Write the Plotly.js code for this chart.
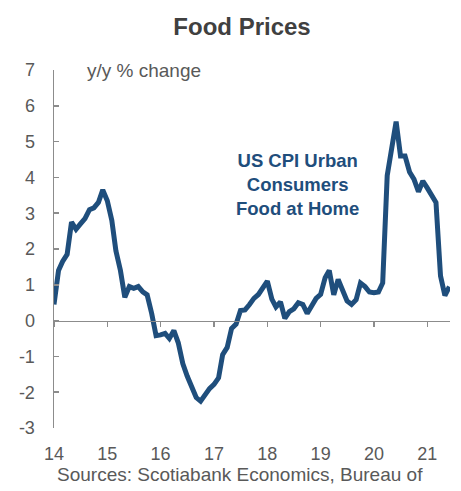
<!DOCTYPE html>
<html><head><meta charset="utf-8">
<script src="https://cdn.plot.ly/plotly-3.0.1.min.js"></script>
<style>html,body{margin:0;padding:0;background:#fff;overflow:hidden}#chart{width:461px;height:491px}</style>
</head><body><div id="chart"></div>
<script>
// Monthly y/y % change, US CPI Urban Consumers: Food at Home, Jan 2014 - Jun 2021
var startYear = 2014;
var foodAtHome = [
  0.45, 1.4, 1.65, 1.85, 2.75, 2.55, 2.7, 2.85, 3.1, 3.15, 3.3, 3.65,
  3.35, 2.8, 1.95, 1.4, 0.65, 0.95, 0.9, 0.95, 0.8, 0.72, 0.2, -0.42,
  -0.4, -0.36, -0.5, -0.28, -0.62, -1.2, -1.55, -1.88, -2.15, -2.25, -2.07, -1.9,
  -1.78, -1.6, -0.95, -0.75, -0.22, -0.1, 0.28, 0.3, 0.45, 0.62, 0.73, 0.9,
  1.1, 0.6, 0.38, 0.52, 0.06, 0.25, 0.33, 0.5, 0.45, 0.2, 0.45, 0.62,
  0.73, 1.2, 1.4, 0.72, 1.15, 0.8, 0.55, 0.45, 0.58, 1.05, 0.95, 0.8,
  0.78, 0.8, 1.05, 4.05, 4.7, 5.56, 4.6, 4.6, 4.15, 3.95, 3.6, 3.9,
  3.7, 3.5, 3.3, 1.25, 0.7, 0.95
];
var yearTickVals = ['2014-01-01','2015-01-01','2016-01-01','2017-01-01','2018-01-01','2019-01-01','2020-01-01','2021-01-01'];
var yearTickText = ['14','15','16','17','18','19','20','21'];
var yTickVals = [-3, -2, -1, 0, 1, 2, 3, 4, 5, 6, 7];
var yTickText = ['-3', '-2', '-1', '0', '1', '2', '3', '4', '5', '6', '7'];

var months = [];
for (var i = 0; i < foodAtHome.length; i++) {
  var y = startYear + Math.floor(i / 12), m = (i % 12) + 1;
  months.push(y + '-' + (m < 10 ? '0' + m : m) + '-01');
}

var grey = '#595959';
var xRange = ['2014-01-01', '2021-06-05'];

var traces = [
  {x: months, y: foodAtHome, type: 'scatter', mode: 'lines',
   line: {color: '#1f4e7c', width: 5}, hoverinfo: 'skip', xaxis: 'x', yaxis: 'y'},
  {x: [months[0]], y: [0], type: 'scatter', mode: 'markers', marker: {opacity: 0},
   hoverinfo: 'skip', xaxis: 'x2', yaxis: 'y'}
];

var layout = {
  width: 461, height: 491,
  margin: {l: 54, r: 11, t: 70, b: 63},
  paper_bgcolor: '#fff', plot_bgcolor: '#fff',
  showlegend: false,
  font: {family: 'Liberation Sans, Arial, sans-serif', color: grey, size: 18},
  title: {text: '<b>Food Prices</b>', x: 0.525, xanchor: 'center', y: 0.945, yanchor: 'middle',
          font: {size: 24, color: '#404040', family: 'Liberation Sans, Arial, sans-serif'}},
  xaxis: {type: 'date', range: xRange, tickvals: yearTickVals, ticktext: yearTickText,
          showgrid: false, zeroline: false, showline: false, ticks: '', ticklabelstandoff: 13,
          tickfont: {size: 18, color: grey}},
  xaxis2: {type: 'date', range: xRange, overlaying: 'x', anchor: 'free', position: 0.3,
           tickvals: yearTickVals, showticklabels: false, showgrid: false, zeroline: false,
           showline: true, linecolor: '#8c8c8c', linewidth: 1.5,
           ticks: 'outside', ticklen: 5, tickcolor: '#8c8c8c', tickwidth: 1.5},
  yaxis: {range: [-3, 7], tickvals: yTickVals, ticktext: yTickText, showgrid: false, zeroline: false,
          showline: true, linecolor: '#8c8c8c', linewidth: 1.5,
          ticks: 'inside', ticklen: 5, tickcolor: '#8c8c8c', tickwidth: 1.5,
          ticklabelstandoff: 14, tickfont: {size: 18, color: grey}},
  annotations: [
    {xref: 'paper', yref: 'paper', x: 0.078, y: 1.0, xanchor: 'left', yanchor: 'middle',
     text: 'y/y % change', showarrow: false, font: {size: 19, color: grey}},
    {xref: 'paper', yref: 'paper', x: 0.615, y: 0.68, xanchor: 'center', yanchor: 'middle',
     text: '<b>US CPI Urban<br>Consumers<br>Food at Home</b>', showarrow: false, align: 'center',
     font: {size: 18.5, color: '#1f4e7c'}},
    {xref: 'paper', yref: 'paper', x: 0.003, y: -0.095, xanchor: 'left', yanchor: 'top',
     text: 'Sources: Scotiabank Economics, Bureau of<br>Labor Statistics, Statistics Canada',
     showarrow: false, align: 'left', font: {size: 19, color: grey}}
  ]
};

Plotly.newPlot('chart', traces, layout, {displayModeBar: false, staticPlot: true});
</script>
</body></html>
